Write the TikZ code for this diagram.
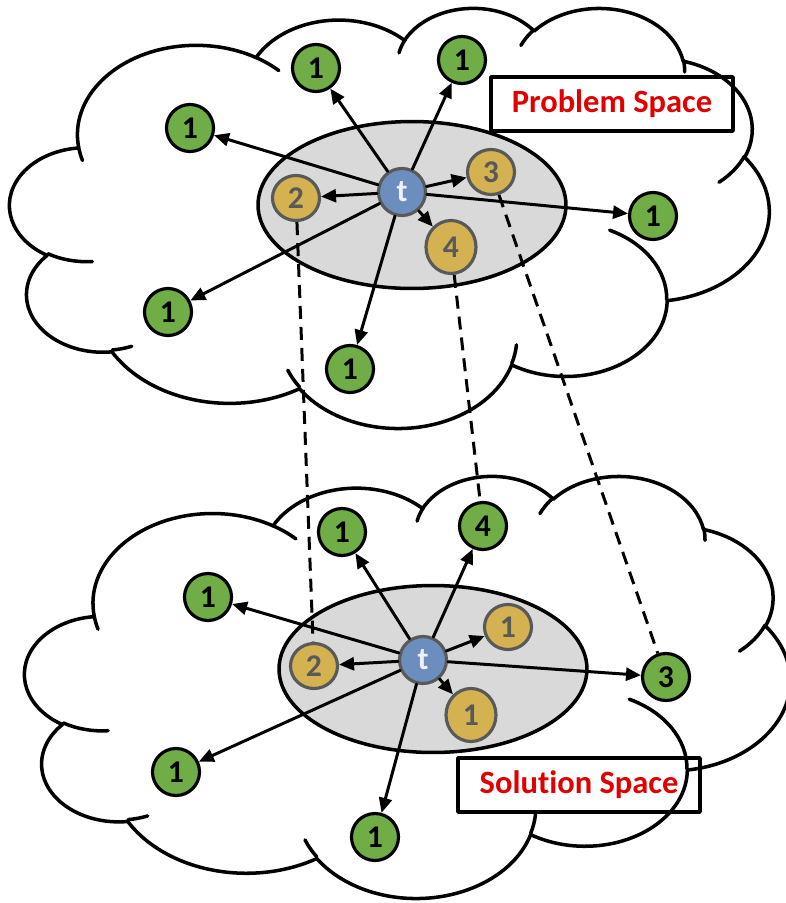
\documentclass[tikz,border=0pt]{standalone}
\usepackage{fontspec}
\setmainfont[Ligatures={NoCommon,NoRequired,NoContextual}]{Carlito}
\usetikzlibrary{arrows.meta,shapes.geometric}

% one arc of the slide cloud: radii, start angle, sweep (angles as seen)
\newcommand{\cloudarc}[4]{%
    \pgfmathsetmacro{\arcfrom}{atan2((#1)*sin(#3),(#2)*cos(#3))}%
    \pgfmathsetmacro{\arcfrom}{\arcfrom+360*round(((#3)-(\arcfrom))/360)}%
    \pgfmathsetmacro{\arcto}{atan2((#1)*sin((#3)+(#4)),(#2)*cos((#3)+(#4)))}%
    \pgfmathsetmacro{\arcto}{\arcto+360*round(((#3)+(#4)-(\arcto))/360)}%
    \pgfpatharcaxes{\arcfrom}{\arcto}%
        {\pgfpointxy{\cloudw/100*(#1)}{0}}{\pgfpointxy{0}{\cloudh/100*(#2)}}%
}
\newcommand{\cloudpt}[2]{\pgfpointxy{\cloudx+\cloudw/100*(#1)}{\cloudy+\cloudh/100*(#2)}}

% cloud with corner (#1,#2) and size #3 x #4
\newcommand{\drawcloud}[4]{%
    \def\cloudx{#1}\def\cloudy{#2}\def\cloudw{#3}\def\cloudh{#4}%
    \pgfpathmoveto{\cloudpt{9.0278}{33.2639}}%
    \cloudarc{15.6319}{21.2731}{-190.4875}{123.7805}%
    \cloudarc{12.3449}{16.8218}{-144.1024}{89.9452}%
    \cloudarc{10.1042}{13.7616}{-145.8079}{99.7230}%
    \cloudarc{11.2431}{15.2662}{-130.9861}{117.2417}%
    \cloudarc{12.3449}{16.8356}{-78.7089}{109.0269}%
    \cloudarc{15.6829}{21.3426}{-46.2673}{130.2690}%
    \cloudarc{13.3912}{18.2106}{0.6250}{114.0333}%
    \cloudarc{15.6296}{21.3310}{22.4516}{115.1726}%
    \cloudarc{17.8704}{24.4051}{66.2426}{75.7110}%
    \cloudarc{10.0926}{13.6991}{-274.9421}{146.7356}%
    \cloudarc{10.0579}{13.7616}{-246.8285}{152.5189}%
    \pgfpathclose
    \pgfusepath{fill,stroke}%
    \pgfpathmoveto{\cloudpt{10.8634}{60.5949}}\cloudarc{10.0579}{13.7616}{86.7420}{26.4295}%
    \pgfpathmoveto{\cloudpt{16.0370}{80.7847}}\cloudarc{10.0926}{13.6991}{73.6105}{11.4475}%
    \pgfpathmoveto{\cloudpt{38.1435}{90.4861}}\cloudarc{15.6296}{21.3310}{137.6242}{14.0811}%
    \pgfpathmoveto{\cloudpt{66.7292}{80.4421}}\cloudarc{15.6296}{21.3310}{6.4533}{15.9984}%
    \pgfpathmoveto{\cloudpt{79.0023}{53.1343}}\cloudarc{13.3912}{18.2106}{-70.2924}{70.9174}%
    \pgfpathmoveto{\cloudpt{96.7546}{35.5417}}\cloudarc{12.3449}{16.8356}{30.3180}{27.7515}%
    \pgfpathmoveto{\cloudpt{88.7130}{12.5602}}\cloudarc{11.2431}{15.2662}{-13.7443}{14.8613}%
    \pgfpathmoveto{\cloudpt{67.3102}{9.1481}}\cloudarc{11.2431}{15.2662}{-149.1815}{18.1959}%
    \pgfpathmoveto{\cloudpt{51.2523}{10.9259}}\cloudarc{10.1042}{13.7616}{-163.4943}{17.6987}%
    \pgfpathmoveto{\cloudpt{32.4074}{12.0185}}\cloudarc{15.6319}{21.2731}{-66.7070}{12.3194}%
    \pgfpathmoveto{\cloudpt{9.5532}{36.5486}}\cloudarc{15.6319}{21.2731}{157.6544}{11.8582}%
    \pgfusepath{stroke}%
}

\begin{document}
\begin{tikzpicture}[
    x=0.02cm,
    y=-0.02cm,
    line cap=round,
    line join=round,
    font=\bfseries
]

\definecolor{LeafGreen}{HTML}{70AD47}
\definecolor{OchreGold}{HTML}{D5B251}
\definecolor{SlateBlue}{HTML}{6C8EBF}
\definecolor{PaleGray}{HTML}{D9D9D9}
\definecolor{EdgeGray}{HTML}{595959}
\definecolor{LabelRed}{HTML}{E00000}

\tikzset{
    cloud line/.style={
        draw=black,
        fill=white,
        line width=2pt
    },
    space/.style={
        ellipse,
        draw=black,
        fill=PaleGray,
        line width=2pt,
        minimum width=6.16cm,
        minimum height=3.34cm,
        inner sep=0pt
    },
    green/.style={
        circle,
        draw=black,
        fill=LeafGreen,
        line width=1.8pt,
        minimum size=0.94cm,
        inner sep=0pt,
        font=\fontsize{18}{18}\selectfont\bfseries
    },
    gold/.style={
        ellipse,
        draw=EdgeGray,
        fill=OchreGold,
        line width=1.8pt,
        minimum width=0.94cm,
        minimum height=0.9cm,
        inner sep=0pt,
        text=EdgeGray,
        font=\fontsize{18}{18}\selectfont\bfseries
    },
    big gold/.style={
        gold,
        minimum width=1cm,
        minimum height=1.06cm
    },
    target/.style={
        circle,
        draw=EdgeGray,
        fill=SlateBlue,
        line width=1.8pt,
        minimum size=0.94cm,
        inner sep=0pt,
        text=white!88!SlateBlue,
        font=\fontsize{18}{18}\selectfont\bfseries
    },
    link/.style={
        -{Triangle[length=0.3cm,width=0.26cm]},
        line width=1.7pt
    },
    match/.style={
        dash pattern=on 0.26cm off 0.16cm,
        line cap=butt,
        line width=1.7pt
    },
    space label/.style={
        draw=black,
        line width=2pt,
        minimum width=4.84cm,
        minimum height=1.08cm,
        text=LabelRed,
        font=\fontsize{18.5}{20}\selectfont\bfseries
    }
}

\useasboundingbox (0,0) rectangle (786,903);

\begin{scope}[cloud line]
\drawcloud{10}{7}{759}{420}
\drawcloud{25}{475}{765}{422}
\end{scope}

% problem space
\node[space] (ptop) at (412,205) {};
\node[target] (pt) at (402,192) {t};
\node[gold] (p2) at (296,198) {2};
\node[gold] (p3) at (491,172) {3};
\node[big gold] (p4) at (451,247) {4};
\node[green] (pg1) at (316,68) {1};
\node[green] (pg2) at (462,60) {1};
\node[green] (pg3) at (190,128) {1};
\node[green] (pg4) at (653,216) {1};
\node[green] (pg5) at (168,312) {1};
\node[green] (pg6) at (350,369) {1};

% solution space
\node[space] (stop) at (433,669) {};
\node[target] (st) at (423,660) {t};
\node[gold] (s2) at (314,666) {2};
\node[gold] (sy1) at (508,627) {1};
\node[big gold] (sy2) at (471,715) {1};
\node[green] (sg1) at (342,532) {1};
\node[green] (sg2) at (483,526) {4};
\node[green] (sg3) at (208,597) {1};
\node[green] (sg4) at (666,677) {3};
\node[green] (sg5) at (176,772) {1};
\node[green] (sg6) at (375,837) {1};

\foreach \name in {p2,p3,p4,pg1,pg2,pg3,pg4,pg5,pg6} {
    \draw[link] (pt) -- (\name);
}
\foreach \name in {s2,sy1,sy2,sg1,sg2,sg3,sg4,sg5,sg6} {
    \draw[link] (st) -- (\name);
}

\draw[match] (p2) -- (s2);
\draw[match] (p4) -- (sg2);
\draw[match] (p3) -- (sg4);

\node[space label] (problem) at (612,104) {Problem Space};
\node[space label] (solution) at (579,785) {Solution Space};

\end{tikzpicture}
\end{document}
